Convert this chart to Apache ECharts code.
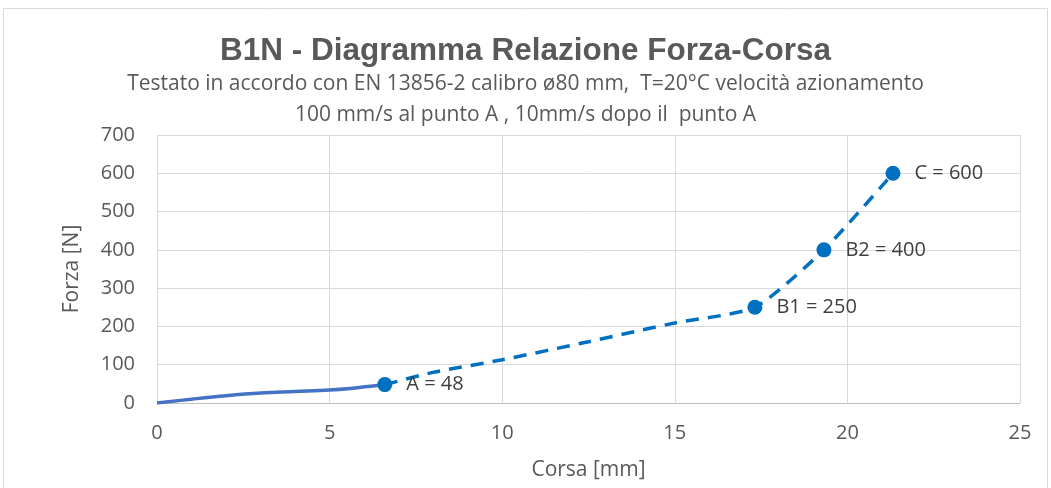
<!DOCTYPE html>
<html><head><meta charset="utf-8">
<script src="https://cdn.jsdelivr.net/npm/echarts@6/dist/echarts.min.js"></script>
<style>html,body{margin:0;padding:0;background:#fff}#c{width:1051px;height:488px}</style>
</head><body><div id="c"></div>
<script>
const titleText = 'B1N - Diagramma Relazione Forza-Corsa';
const subtitleText = 'Testato in accordo con EN 13856-2 calibro ø80 mm,  T=20°C velocità azionamento\n100 mm/s al punto A , 10mm/s dopo il  punto A';
const xName = 'Corsa [mm]';
const yName = 'Forza [N]';
const solidX = [0, 1, 2, 3, 4, 5, 5.6, 6.1, 6.6];
const solidY = [0, 10, 19, 26, 30, 34, 38, 43, 48];
const dashX = [6.6, 8, 10, 12.5, 15, 17.32, 19.32, 21.32];
const dashY = [48, 80, 113, 160, 209, 250, 400, 600];
const pointNames = ['A', 'B1', 'B2', 'C'];
const pointX = [6.6, 17.32, 19.32, 21.32];
const pointY = [48, 250, 400, 600];

const chart = echarts.init(document.getElementById('c'));
const font = 'Open Sans';
const zip = (a, b) => a.map((v, i) => [v, b[i]]);
chart.setOption({
  animation: false,
  graphic: [{type: 'rect', shape: {x: 3.5, y: 8.5, width: 1044, height: 490}, style: {fill: 'none', stroke: '#D9D9D9', lineWidth: 1}}],
  title: [{
    text: titleText, left: 'center', top: 30,
    textStyle: {fontFamily: 'Liberation Sans', fontWeight: 'bold', fontSize: 31.5, color: '#595959'}
  }, {
    text: subtitleText, left: 'center', top: 64,
    textStyle: {fontFamily: font, fontWeight: 'normal', fontSize: 21, color: '#595959', lineHeight: 31}
  }],
  grid: {left: 157, right: 31, top: 135, bottom: 85},
  xAxis: {
    type: 'value', min: 0, max: 25, interval: 5,
    name: xName, nameLocation: 'middle', nameGap: 57,
    nameTextStyle: {fontFamily: font, fontSize: 21, color: '#595959'},
    axisLine: {show: true, lineStyle: {color: '#BFBFBF'}},
    axisTick: {show: false},
    axisLabel: {fontFamily: font, fontSize: 20, color: '#595959', margin: 20},
    splitLine: {show: true, lineStyle: {color: '#D9D9D9'}}
  },
  yAxis: {
    type: 'value', min: 0, max: 700, interval: 100,
    name: yName, nameLocation: 'middle', nameGap: 74, nameRotate: 90,
    nameTextStyle: {fontFamily: font, fontSize: 21, color: '#595959'},
    axisLine: {show: false}, axisTick: {show: false},
    axisLabel: {fontFamily: font, fontSize: 20, color: '#595959', margin: 22},
    splitLine: {show: true, lineStyle: {color: '#D9D9D9'}}
  },
  series: [{
    type: 'line', data: zip(solidX, solidY), smooth: 0.4, showSymbol: false,
    lineStyle: {color: '#4472C4', width: 3.5}, z: 2
  }, {
    type: 'line', data: zip(dashX, dashY), smooth: 0.2, showSymbol: false,
    lineStyle: {color: '#0070C0', width: 3.5, type: [13, 9]}, z: 2
  }, {
    type: 'scatter', data: pointNames.map((n, i) => ({name: n, value: [pointX[i], pointY[i]]})),
    symbol: 'circle', symbolSize: 15, itemStyle: {color: '#0070C0', opacity: 1}, z: 3,
    label: {show: true, position: 'right', distance: 14,
      formatter: p => p.name + ' = ' + p.value[1],
      fontFamily: font, fontSize: 20, color: '#404040'}
  }]
});
</script></body></html>
